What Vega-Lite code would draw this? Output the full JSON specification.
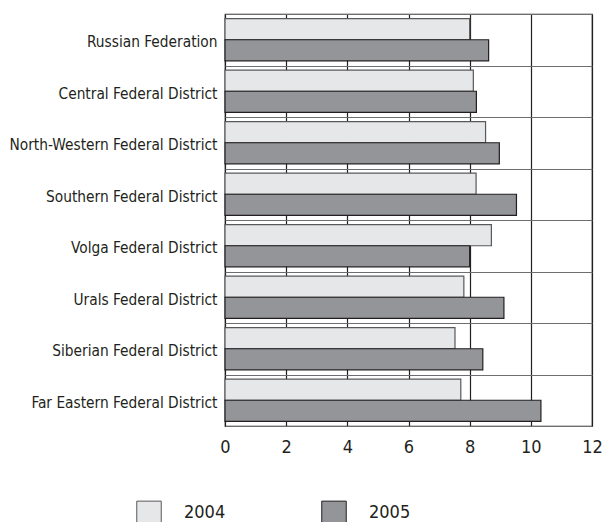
{
  "$schema": "https://vega.github.io/schema/vega-lite/v6.json",
  "width": 367,
  "height": 412,
  "autosize": {"type": "none"},
  "padding": {"left": 225, "top": 14, "right": 11, "bottom": 96},
  "background": "white",
  "config": {
    "font": "DejaVu Sans Condensed, Liberation Sans, sans-serif",
    "view": {"stroke": "#231f20", "strokeWidth": 1.2}
  },
  "data": {
    "values": [
      {"region": "Russian Federation", "year": "2004", "value": 8.0},
      {"region": "Russian Federation", "year": "2005", "value": 8.62},
      {"region": "Central Federal District", "year": "2004", "value": 8.12},
      {"region": "Central Federal District", "year": "2005", "value": 8.22},
      {"region": "North-Western Federal District", "year": "2004", "value": 8.52},
      {"region": "North-Western Federal District", "year": "2005", "value": 8.97},
      {"region": "Southern Federal District", "year": "2004", "value": 8.21},
      {"region": "Southern Federal District", "year": "2005", "value": 9.53},
      {"region": "Volga Federal District", "year": "2004", "value": 8.71},
      {"region": "Volga Federal District", "year": "2005", "value": 8.0},
      {"region": "Urals Federal District", "year": "2004", "value": 7.81},
      {"region": "Urals Federal District", "year": "2005", "value": 9.12},
      {"region": "Siberian Federal District", "year": "2004", "value": 7.52},
      {"region": "Siberian Federal District", "year": "2005", "value": 8.43},
      {"region": "Far Eastern Federal District", "year": "2004", "value": 7.71},
      {"region": "Far Eastern Federal District", "year": "2005", "value": 10.33}
    ]
  },
  "mark": {"type": "bar", "strokeWidth": 1.2},
  "encoding": {
    "y": {
      "field": "region",
      "type": "nominal",
      "sort": null,
      "scale": {"paddingInner": 0, "paddingOuter": 0},
      "axis": {
        "title": null,
        "tickBand": "extent",
        "ticks": false,
        "domain": false,
        "grid": true,
        "gridColor": "#6d6e71",
        "gridWidth": 1.2,
        "labelFontSize": 15.3,
        "labelColor": "#231f20",
        "labelPadding": 8,
        "labelOffset": 2,
        "labelLimit": 230
      }
    },
    "yOffset": {
      "field": "year",
      "type": "nominal",
      "scale": {"paddingInner": 0, "paddingOuter": 0.22}
    },
    "x": {
      "field": "value",
      "type": "quantitative",
      "scale": {"domain": [0, 12], "nice": false},
      "axis": {
        "title": null,
        "values": [0, 2, 4, 6, 8, 10, 12],
        "ticks": false,
        "domain": false,
        "grid": true,
        "gridColor": "#231f20",
        "gridWidth": 1.2,
        "gridOpacity": 1,
        "labelFontSize": 18,
        "labelColor": "#231f20",
        "labelPadding": 12,
        "labelFlush": false
      }
    },
    "fill": {
      "field": "year",
      "type": "nominal",
      "scale": {"domain": ["2004", "2005"], "range": ["#e6e7e8", "#939598"]},
      "legend": {
        "title": null,
        "orient": "none",
        "direction": "horizontal",
        "legendX": -89,
        "legendY": 486,
        "symbolType": "square",
        "symbolSize": 600,
        "symbolStrokeColor": "#58595b",
        "symbolStrokeWidth": 1,
        "symbolOpacity": 1,
        "labelFontSize": 18,
        "labelColor": "#231f20",
        "labelOffset": 22,
        "columnPadding": 93,
        "padding": 0
      }
    },
    "stroke": {
      "field": "year",
      "type": "nominal",
      "scale": {"domain": ["2004", "2005"], "range": ["#58595b", "#231f20"]},
      "legend": null
    }
  }
}
